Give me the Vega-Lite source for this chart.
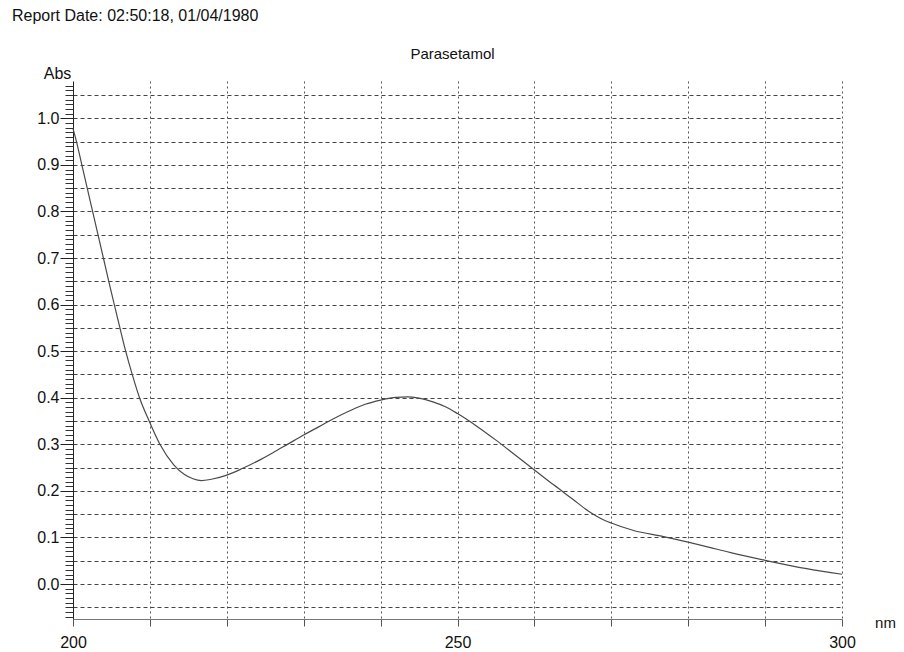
{
  "$schema": "https://vega.github.io/schema/vega-lite/v6.json",
  "width": 769,
  "height": 538,
  "autosize": {"type": "none"},
  "padding": {"left": 73, "top": 81, "right": 62, "bottom": 33},
  "background": "white",
  "config": {
    "font": "Liberation Sans",
    "view": {"stroke": null},
    "axis": {"labelFont": "Liberation Sans", "titleFont": "Liberation Sans", "labelColor": "#111", "titleColor": "#111", "labelFontSize": 16, "titleFontSize": 16, "titleFontWeight": "normal"}
  },
  "title": {
    "text": "Report Date: 02:50:18, 01/04/1980",
    "anchor": "start",
    "frame": "group",
    "dx": -61,
    "offset": 9,
    "baseline": "alphabetic",
    "fontSize": 16,
    "fontWeight": "normal",
    "color": "#111",
    "font": "Liberation Sans"
  },
  "data": {
    "values": [
      {"nm": 200.0, "abs": 0.978},
      {"nm": 200.45, "abs": 0.95},
      {"nm": 201.15, "abs": 0.90},
      {"nm": 201.85, "abs": 0.85},
      {"nm": 202.55, "abs": 0.80},
      {"nm": 203.25, "abs": 0.75},
      {"nm": 203.95, "abs": 0.70},
      {"nm": 204.65, "abs": 0.65},
      {"nm": 205.37, "abs": 0.60},
      {"nm": 206.1, "abs": 0.55},
      {"nm": 206.85, "abs": 0.50},
      {"nm": 207.7, "abs": 0.45},
      {"nm": 208.65, "abs": 0.40},
      {"nm": 209.9, "abs": 0.35},
      {"nm": 211.3, "abs": 0.30},
      {"nm": 213.1, "abs": 0.256},
      {"nm": 214.5, "abs": 0.235},
      {"nm": 215.6, "abs": 0.226},
      {"nm": 216.7, "abs": 0.222},
      {"nm": 218.0, "abs": 0.225},
      {"nm": 220.0, "abs": 0.234},
      {"nm": 222.0, "abs": 0.248},
      {"nm": 224.0, "abs": 0.264},
      {"nm": 226.0, "abs": 0.282},
      {"nm": 228.0, "abs": 0.301},
      {"nm": 230.0, "abs": 0.320},
      {"nm": 232.0, "abs": 0.338},
      {"nm": 234.0, "abs": 0.356},
      {"nm": 236.0, "abs": 0.372},
      {"nm": 238.0, "abs": 0.386},
      {"nm": 240.0, "abs": 0.395},
      {"nm": 242.0, "abs": 0.401},
      {"nm": 243.5, "abs": 0.402},
      {"nm": 245.0, "abs": 0.399},
      {"nm": 246.8, "abs": 0.391},
      {"nm": 248.5, "abs": 0.38},
      {"nm": 250.0, "abs": 0.366},
      {"nm": 252.5, "abs": 0.339},
      {"nm": 255.0, "abs": 0.309},
      {"nm": 257.5, "abs": 0.277},
      {"nm": 260.0, "abs": 0.245},
      {"nm": 262.5, "abs": 0.213},
      {"nm": 265.0, "abs": 0.182},
      {"nm": 267.0, "abs": 0.157},
      {"nm": 268.5, "abs": 0.142},
      {"nm": 270.0, "abs": 0.131},
      {"nm": 272.9, "abs": 0.115},
      {"nm": 276.8, "abs": 0.102},
      {"nm": 280.0, "abs": 0.090},
      {"nm": 282.5, "abs": 0.080},
      {"nm": 285.4, "abs": 0.068},
      {"nm": 290.0, "abs": 0.051},
      {"nm": 295.4, "abs": 0.033},
      {"nm": 300.0, "abs": 0.021}
    ]
  },
  "layer": [
    {
      "mark": {"type": "line", "opacity": 0},
      "encoding": {
        "x": {"field": "nm", "type": "quantitative", "scale": {"domain": [200, 300], "nice": false, "zero": false},
          "axis": {"orient": "bottom", "values": [210, 220, 230, 240, 250, 260, 270, 280, 290, 300], "grid": true, "gridDash": [2, 3], "gridColor": "#555", "gridWidth": 1, "gridOpacity": 1, "labels": false, "ticks": false, "domain": false, "title": null}},
        "y": {"field": "abs", "type": "quantitative", "scale": {"domain": [-0.075, 1.08], "nice": false, "zero": false},
          "axis": {"orient": "left", "values": [-0.05, 0, 0.05, 0.1, 0.15, 0.2, 0.25, 0.3, 0.35, 0.4, 0.45, 0.5, 0.55, 0.6, 0.65, 0.7, 0.75, 0.8, 0.85, 0.9, 0.95, 1.0, 1.05], "grid": true, "gridDash": [4, 3], "gridColor": "#444", "gridWidth": 1, "gridOpacity": 1, "labels": false, "ticks": false, "domain": false, "title": null}}
      }
    },
    {
      "mark": {"type": "line", "opacity": 0},
      "encoding": {
        "x": {"field": "nm", "type": "quantitative",
          "axis": {"orient": "top", "labels": false, "ticks": false, "domain": false, "grid": false, "title": "Parasetamol", "titlePadding": 23, "titleBaseline": "alphabetic", "titleX": 379, "titleFontSize": 15}},
        "y": {"field": "abs", "type": "quantitative",
          "axis": {"orient": "left", "values": [-0.07, -0.06, -0.05, -0.04, -0.03, -0.02, -0.01, 0, 0.01, 0.02, 0.03, 0.04, 0.05, 0.06, 0.07, 0.08, 0.09, 0.1, 0.11, 0.12, 0.13, 0.14, 0.15, 0.16, 0.17, 0.18, 0.19, 0.2, 0.21, 0.22, 0.23, 0.24, 0.25, 0.26, 0.27, 0.28, 0.29, 0.3, 0.31, 0.32, 0.33, 0.34, 0.35, 0.36, 0.37, 0.38, 0.39, 0.4, 0.41, 0.42, 0.43, 0.44, 0.45, 0.46, 0.47, 0.48, 0.49, 0.5, 0.51, 0.52, 0.53, 0.54, 0.55, 0.56, 0.57, 0.58, 0.59, 0.6, 0.61, 0.62, 0.63, 0.64, 0.65, 0.66, 0.67, 0.68, 0.69, 0.7, 0.71, 0.72, 0.73, 0.74, 0.75, 0.76, 0.77, 0.78, 0.79, 0.8, 0.81, 0.82, 0.83, 0.84, 0.85, 0.86, 0.87, 0.88, 0.89, 0.9, 0.91, 0.92, 0.93, 0.94, 0.95, 0.96, 0.97, 0.98, 0.99, 1.0, 1.01, 1.02, 1.03, 1.04, 1.05, 1.06, 1.07], "labels": false, "ticks": true, "tickSize": 8, "tickColor": "#333", "tickWidth": 1, "domain": false, "grid": false, "title": null}}
      }
    },
    {
      "mark": {"type": "line", "color": "#4a4a4a", "strokeWidth": 1.2, "interpolate": "monotone"},
      "encoding": {
        "x": {"field": "nm", "type": "quantitative",
          "axis": {"orient": "bottom", "values": [200, 210, 220, 230, 240, 250, 260, 270, 280, 290, 300], "labelExpr": "datum.value % 50 === 0 ? datum.label : ''", "tickSize": 7, "tickColor": "#555", "domainColor": "#777", "grid": false, "labelPadding": 8, "labelFlush": false, "title": "nm", "titleX": 812, "titleY": 3, "titleAlign": "center", "titleBaseline": "middle", "titleFontSize": 15}},
        "y": {"field": "abs", "type": "quantitative",
          "axis": {"orient": "left", "values": [0, 0.1, 0.2, 0.3, 0.4, 0.5, 0.6, 0.7, 0.8, 0.9, 1.0], "format": ".1f", "tickSize": 13, "tickColor": "#222", "domainColor": "#222", "grid": false, "labelPadding": 1, "title": "Abs", "titleAngle": 0, "titleX": -16, "titleY": -3, "titleAlign": "center", "titleBaseline": "alphabetic", "titleFontSize": 16}}
      }
    }
  ],
  "resolve": {"axis": {"x": "independent", "y": "independent"}}
}
